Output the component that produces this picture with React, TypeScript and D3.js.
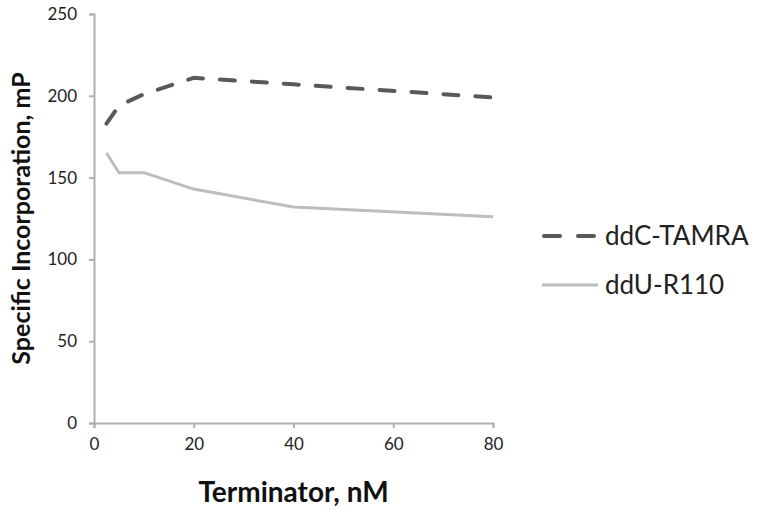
import React, { useRef, useEffect } from "react";
import * as d3 from "d3";

const concentrations = [2.5, 5, 10, 20, 40, 80];
const ddcTamra = [183, 194, 201, 211, 207, 199];
const dduR110 = [165, 153, 153, 143, 132, 126];
const xTicks = [0, 20, 40, 60, 80];
const yTicks = [0, 50, 100, 150, 200, 250];

const series = [
  { name: "ddC-TAMRA", values: ddcTamra, color: "#595959", width: 4, dash: "15,17" },
  { name: "ddU-R110", values: dduR110, color: "#bdbdbd", width: 3, dash: null },
];

const App = () => {
  const svgRef = useRef<SVGSVGElement>(null);

  useEffect(() => {
    const w = 760;
    const h = 510;
    const margin = { top: 14, right: 267, bottom: 87, left: 94 };
    const font = "Lato, 'Open Sans', sans-serif";

    const svg = d3.select(svgRef.current).attr("width", w).attr("height", h).style("background", "#fff");
    svg.selectAll("*").remove();

    const x = d3.scaleLinear().domain([0, 80]).range([margin.left, w - margin.right]);
    const y = d3.scaleLinear().domain([0, 250]).range([h - margin.bottom, margin.top]);

    // axes
    const xAxis = svg
      .append("g")
      .attr("transform", `translate(0,${h - margin.bottom})`)
      .call(d3.axisBottom(x).tickValues(xTicks).tickSize(5).tickPadding(10));
    const yAxis = svg
      .append("g")
      .attr("transform", `translate(${margin.left},0)`)
      .call(d3.axisLeft(y).tickValues(yTicks).tickSize(5).tickPadding(12));

    [xAxis, yAxis].forEach((g) => {
      g.select(".domain").attr("stroke", "#b0b0b0").attr("stroke-width", 2);
      g.selectAll(".tick line").attr("stroke", "#b0b0b0").attr("stroke-width", 2);
      g.selectAll(".tick text").attr("font-family", font).attr("font-size", 17).attr("fill", "#222");
    });

    // axis titles
    svg
      .append("text")
      .attr("x", x(40))
      .attr("y", 502)
      .attr("text-anchor", "middle")
      .attr("font-family", font)
      .attr("font-weight", "bold")
      .attr("font-size", 28)
      .attr("fill", "#111")
      .text("Terminator, nM");

    svg
      .append("text")
      .attr("transform", `translate(30,${y(125)}) rotate(-90)`)
      .attr("text-anchor", "middle")
      .attr("font-family", font)
      .attr("font-weight", "bold")
      .attr("font-size", 25)
      .attr("fill", "#111")
      .text("Specific Incorporation, mP");

    // lines
    const line = d3
      .line<number>()
      .x((_, i) => x(concentrations[i]))
      .y((d) => y(d));

    series.forEach((s) => {
      const p = svg
        .append("path")
        .datum(s.values)
        .attr("d", line)
        .attr("fill", "none")
        .attr("stroke", s.color)
        .attr("stroke-width", s.width)
        .attr("stroke-linejoin", "round")
        .attr("stroke-linecap", s.dash ? "round" : "butt");
      if (s.dash) p.attr("stroke-dasharray", s.dash);
    });

    // legend
    const legend = svg.append("g").attr("transform", "translate(542,236)");
    series.forEach((s, i) => {
      const row = legend.append("g").attr("transform", `translate(0,${i * 49})`);
      const l = row
        .append("line")
        .attr("x1", 0)
        .attr("x2", 56)
        .attr("stroke", s.color)
        .attr("stroke-width", s.width);
      if (s.dash) l.attr("stroke-dasharray", "16,18").attr("x1", 2).attr("stroke-linecap", "round");
      row
        .append("text")
        .attr("x", 63)
        .attr("y", 9)
        .attr("font-family", font)
        .attr("font-size", 26)
        .attr("fill", "#222")
        .text(s.name);
    });
  }, []);

  return <svg ref={svgRef} style={{ position: "absolute", left: 0, top: 0 }}></svg>;
};

export default App;
